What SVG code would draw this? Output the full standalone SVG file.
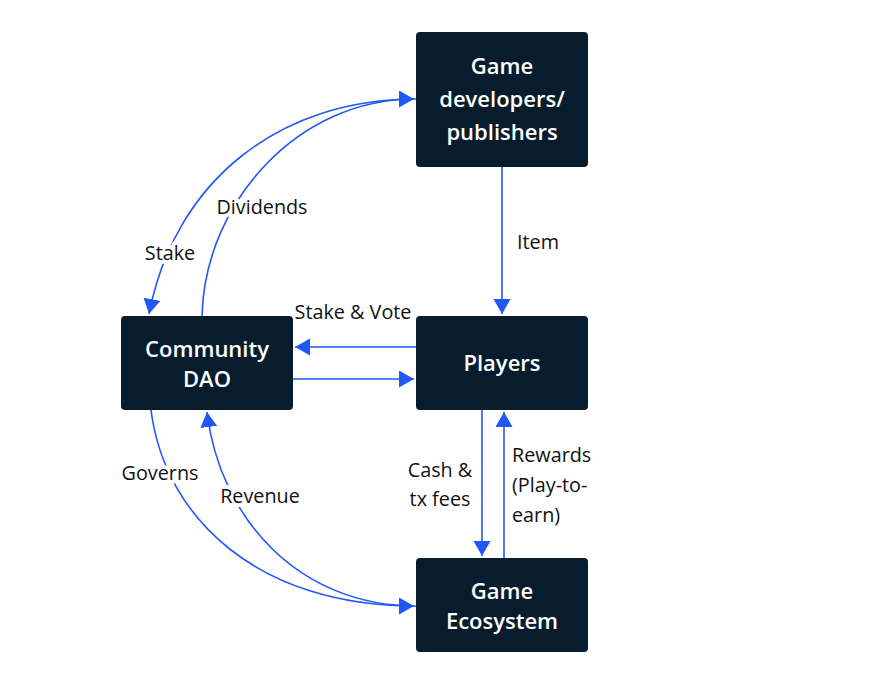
<svg xmlns="http://www.w3.org/2000/svg" width="871" height="690" viewBox="0 0 871 690">
<style>
.box{fill:#071d2d}
.bt{font-family:"Open Sans","Noto Sans",sans-serif;font-size:22px;font-weight:600;fill:#ffffff;text-anchor:middle}
.lt{font-family:"Open Sans","Noto Sans",sans-serif;font-size:19.8px;fill:#111111;paint-order:stroke;stroke:#ffffff;stroke-width:8px;stroke-linejoin:round}
.c{fill:none;stroke:#2157f7;stroke-width:1.6}
</style>
<defs>
<marker id="ah" markerUnits="userSpaceOnUse" markerWidth="16" markerHeight="18" refX="15" refY="8.5" orient="auto">
<path d="M0,0 L15,8.5 L0,17 z" fill="#2157f7"/>
</marker>
</defs>
<rect width="871" height="690" fill="#ffffff"/>
<g id="connectors">
<path class="c" d="M502,167 L502,314" marker-end="url(#ah)"/>
<path class="c" d="M416,347 L295,347" marker-end="url(#ah)"/>
<path class="c" d="M293,379 L414,379" marker-end="url(#ah)"/>
<path class="c" d="M482,410 L482,556" marker-end="url(#ah)"/>
<path class="c" d="M504,558 L504,412" marker-end="url(#ah)"/>
<path class="c" d="M416,99 C280,99 175,180 149,314" marker-end="url(#ah)"/>
<path class="c" d="M202,316 C205,200 300,99 414,99" marker-end="url(#ah)"/>
<path class="c" d="M151,410 C165,520 260,606 414,606" marker-end="url(#ah)"/>
<path class="c" d="M416,606 C300,606 220,520 207,412" marker-end="url(#ah)"/>
<text class="lt" x="517" y="249">Item</text>
<text class="lt" x="353" y="319" text-anchor="middle">Stake &amp; Vote</text>
<text class="lt" x="170" y="260" text-anchor="middle">Stake</text>
<text class="lt" x="262" y="214" text-anchor="middle">Dividends</text>
<text class="lt" x="160" y="480" text-anchor="middle">Governs</text>
<text class="lt" x="260" y="503" text-anchor="middle">Revenue</text>
<text class="lt" x="440" y="477" text-anchor="middle">Cash &amp;</text>
<text class="lt" x="440" y="506" text-anchor="middle">tx fees</text>
<text class="lt" x="512" y="462">Rewards</text>
<text class="lt" x="512" y="492">(Play-to-</text>
<text class="lt" x="512" y="522">earn)</text>
</g>
<g id="game-developers">
<rect class="box" x="416" y="32" width="172" height="135" rx="4"/>
<text class="bt" x="502" y="74">Game</text>
<text class="bt" x="502" y="107">developers/</text>
<text class="bt" x="502" y="140">publishers</text>
</g>
<g id="community-dao">
<rect class="box" x="121" y="316" width="172" height="94" rx="4"/>
<text class="bt" x="207" y="357">Community</text>
<text class="bt" x="207" y="387">DAO</text>
</g>
<g id="players">
<rect class="box" x="416" y="316" width="172" height="94" rx="4"/>
<text class="bt" x="502" y="371">Players</text>
</g>
<g id="game-ecosystem">
<rect class="box" x="416" y="558" width="172" height="94" rx="4"/>
<text class="bt" x="502" y="599">Game</text>
<text class="bt" x="502" y="629">Ecosystem</text>
</g>
</svg>
